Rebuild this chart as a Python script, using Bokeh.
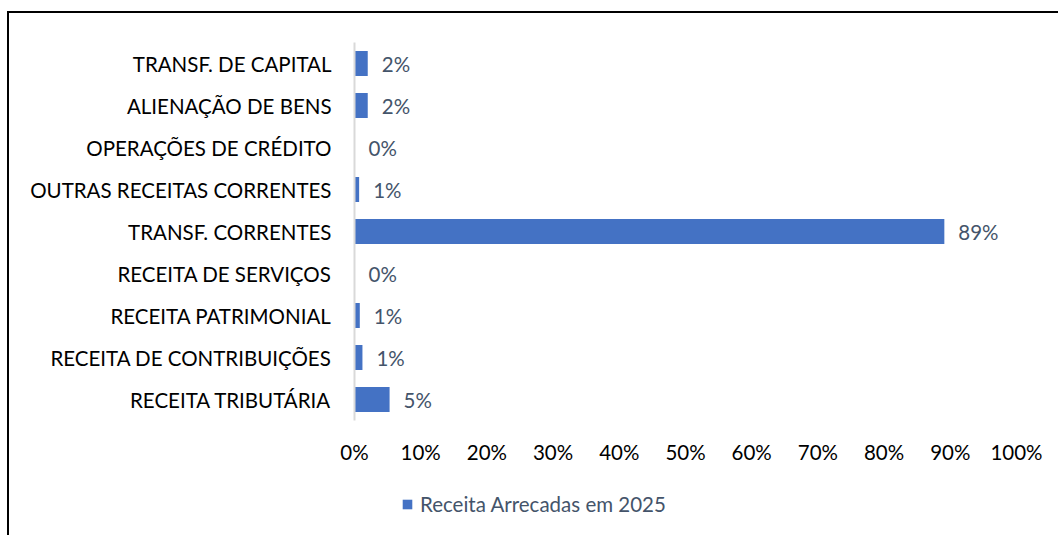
from bokeh.plotting import figure
from bokeh.layouts import column
from bokeh.models import ColumnDataSource, FactorRange, Range1d, NumeralTickFormatter, FixedTicker, Legend, LegendItem
from bokeh.core.properties import value
from bokeh.embed import file_html
from bokeh.resources import INLINE

categories = [
    "RECEITA TRIBUTÁRIA",
    "RECEITA DE CONTRIBUIÇÕES",
    "RECEITA PATRIMONIAL",
    "RECEITA DE SERVIÇOS",
    "TRANSF. CORRENTES",
    "OUTRAS RECEITAS CORRENTES",
    "OPERAÇÕES DE CRÉDITO",
    "ALIENAÇÃO DE BENS",
    "TRANSF. DE CAPITAL",
]
shares = [0.053, 0.012, 0.008, 0.0, 0.891, 0.007, 0.0, 0.020, 0.020]
x_ticks = [0.0, 0.1, 0.2, 0.3, 0.4, 0.5, 0.6, 0.7, 0.8, 0.9, 1.0]
series_name = "Receita Arrecadas em 2025"

FONT = "Lato"
FS = "20.5px"
LABEL_COLOR = "#44546A"
BAR_COLOR = "#4472C4"

src = ColumnDataSource(dict(
    cat=categories,
    val=shares,
    lab=[f"{round(v * 100)}%" for v in shares],
))

W, H1, H2 = 1049, 460, 62
p = figure(
    width=W, height=H1,
    y_range=FactorRange(factors=categories, range_padding=0),
    x_range=Range1d(0, 1),
    output_backend="svg", toolbar_location=None,
    min_border_left=345, min_border_top=29,
    min_border_right=42, min_border_bottom=53,
)
p.outline_line_color = None
p.background_fill_color = "white"
p.border_fill_color = "white"
p.xgrid.visible = False
p.ygrid.visible = False

r = p.hbar(y="cat", right="val", left=0, height=0.6, source=src,
           fill_color=BAR_COLOR, line_color=None)

p.text(x="val", y="cat", text="lab", source=src, x_offset=14,
       text_align="left", text_baseline="middle",
       text_font=value(FONT), text_font_size=FS, text_color=LABEL_COLOR)

xa = p.xaxis[0]
xa.ticker = FixedTicker(ticks=x_ticks)
xa.formatter = NumeralTickFormatter(format="0%")
xa.axis_line_color = None
xa.major_tick_line_color = None
xa.minor_tick_line_color = None
xa.major_label_standoff = 13
xa.major_label_text_font = FONT
xa.major_label_text_font_size = FS
xa.major_label_text_color = "#000000"

ya = p.yaxis[0]
ya.axis_line_color = "#D9D9D9"
ya.axis_line_width = 2
ya.major_tick_line_color = None
ya.minor_tick_line_color = None
ya.major_label_standoff = 17
ya.major_label_text_font = FONT
ya.major_label_text_font_size = FS
ya.major_label_text_color = "#000000"

# legend strip below the chart: its bars have zero height and lie outside its x range,
# so only the legend entry is visible
lf = figure(
    width=W, height=H2, x_range=Range1d(2, 3),
    y_range=FactorRange(factors=categories, range_padding=0),
    output_backend="svg", toolbar_location=None,
    x_axis_location=None, y_axis_location=None,
    min_border=0,
)
lf.outline_line_color = None
lf.xgrid.visible = False
lf.ygrid.visible = False
lr = lf.hbar(y="cat", right="val", left=0, height=0.0, source=src,
             fill_color=BAR_COLOR, line_color=None)

legend = Legend(
    items=[LegendItem(label=series_name, renderers=[lr])],
    location=(47, 19), orientation="horizontal",
    border_line_color=None, background_fill_alpha=0,
    padding=0, margin=0, glyph_width=12, glyph_height=12, label_standoff=7,
    label_text_font=FONT, label_text_font_size=FS, label_text_color=LABEL_COLOR,
)
lf.add_layout(legend, "center")

layout = column(p, lf, spacing=0)
layout.styles = {"border-top": "2px solid black", "border-left": "2px solid black",
                 "margin-left": "7px", "margin-top": "11px"}

open("out.html", "w").write(file_html(layout, INLINE))
